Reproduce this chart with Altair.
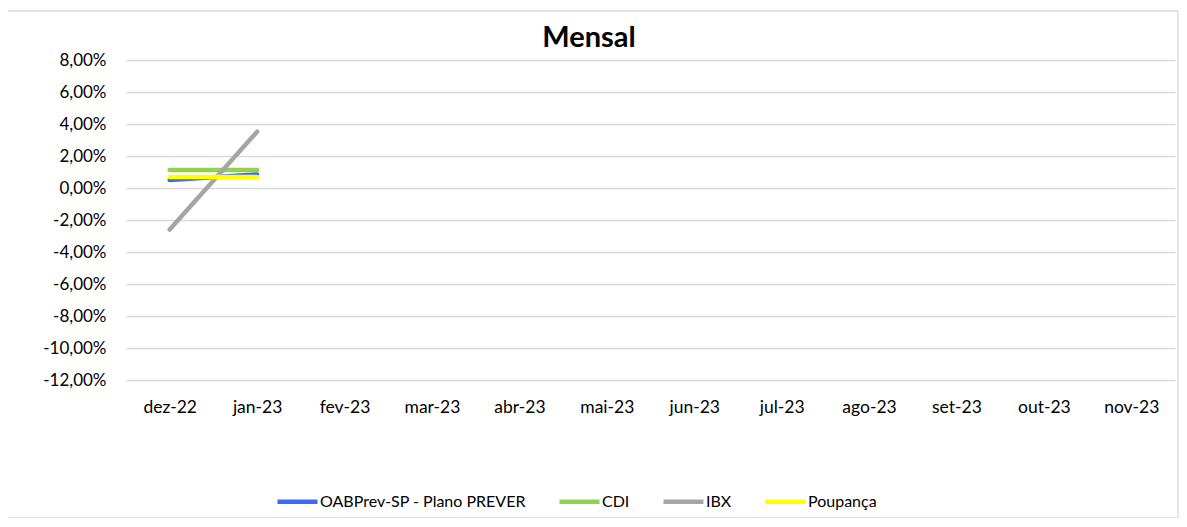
import altair as alt
import pandas as pd

months = ["dez-22", "jan-23", "fev-23", "mar-23", "abr-23", "mai-23",
          "jun-23", "jul-23", "ago-23", "set-23", "out-23", "nov-23"]
series = ["OABPrev-SP - Plano PREVER", "CDI", "IBX", "Poupança"]
colors = ["#3a6cf4", "#92d050", "#a5a5a5", "#ffff00"]
chart_title = "Mensal"

obs_months = ["dez-22", "jan-23"]
oabprev = [0.50, 0.85]
cdi = [1.12, 1.12]
ibx = [-2.60, 3.52]
poupanca = [0.69, 0.69]

rows = []
for name, vals in zip(series, [oabprev, cdi, ibx, poupanca]):
    for m, v in zip(obs_months, vals):
        rows.append({"mes": m, "serie": name, "valor": v})
df = pd.DataFrame(rows)

FONT = "Lato"
W, H = 1049, 320

label_expr = "(datum.value < 0 ? '-' : '') + replace(format(abs(datum.value), '.2f'), '.', ',') + '%'"

lines = alt.Chart(df).mark_line(strokeWidth=4.5, strokeCap="round").encode(
    x=alt.X("mes:N", sort=months, scale=alt.Scale(domain=months),
            axis=alt.Axis(title=None, labelAngle=0, domain=False, ticks=False,
                          grid=False, labelFontSize=17.5, labelFont=FONT,
                          labelColor="#000000", labelPadding=18)),
    y=alt.Y("valor:Q", scale=alt.Scale(domain=[-12, 8], nice=False, zero=False),
            axis=alt.Axis(title=None, values=list(range(-12, 9, 2)), labelExpr=label_expr,
                          domain=False, ticks=False, grid=True, gridColor="#d9d9d9",
                          gridWidth=1.3, labelFontSize=17, labelFont=FONT,
                          labelColor="#000000", labelPadding=20)),
    color=alt.Color("serie:N", sort=series,
                    scale=alt.Scale(domain=series, range=colors),
                    legend=alt.Legend(title=None, orient="none", legendX=149, legendY=419,
                                      direction="horizontal", symbolType="stroke",
                                      symbolSize=1600, symbolStrokeWidth=4.5,
                                      labelFontSize=16, labelFont=FONT, labelColor="#000000",
                                      labelLimit=500, labelOffset=0, columnPadding=24)),
    order=alt.Order("mes:N"),
)

border = alt.Chart(alt.Data(values=[{"a": 1}])).mark_rect(
    fill=None, stroke="#d9d9d9", strokeWidth=1.3
).encode(
    x=alt.value(-120), x2=alt.value(1052), y=alt.value(-49), y2=alt.value(458)
)

title = alt.Chart(alt.Data(values=[{"t": chart_title}])).mark_text(
    font=FONT, fontSize=29, fontWeight="bold", color="#000000",
    align="center", baseline="alphabetic"
).encode(
    text="t:N", x=alt.value(463), y=alt.value(-13)
)

chart = alt.layer(border, lines, title).properties(
    width=W, height=H,
    autosize=alt.AutoSizeParams(type="none"),
    padding={"left": 118, "top": 52, "right": 4, "bottom": 138},
).configure_view(stroke=None)

chart.save("out.html", embed_options={"renderer": "svg", "actions": False})
